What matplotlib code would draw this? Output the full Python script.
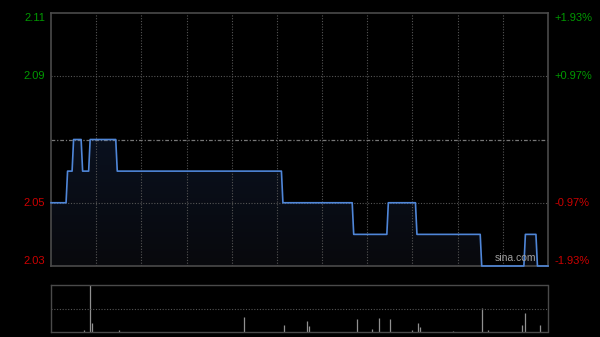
import numpy as np
import matplotlib.pyplot as plt
from matplotlib.colors import LinearSegmentedColormap

plt.rcParams['font.family'] = ['Liberation Sans', 'DejaVu Sans']

# intraday price, minutes after open (HK session, 330 min)
minutes = [0, 10, 11, 14, 15, 20, 21, 25, 26, 43, 44, 153, 154, 200, 201, 223,
           224, 242, 243, 285, 286, 314, 315, 322, 323, 330]
prices = [2.05, 2.05, 2.06, 2.06, 2.07, 2.07, 2.06, 2.06, 2.07, 2.07, 2.06, 2.06,
          2.05, 2.05, 2.04, 2.04, 2.05, 2.05, 2.04, 2.04, 2.03, 2.03, 2.04, 2.04,
          2.03, 2.03]

# volume spikes (relative to max)
vol_minutes = [22, 26, 27, 45, 128, 155, 170, 171, 203, 213, 218, 225, 240, 244,
               245, 267, 286, 290, 313, 315, 325]
vol_values = [0.05, 1.0, 0.19, 0.05, 0.31, 0.14, 0.23, 0.13, 0.27, 0.06, 0.29,
              0.27, 0.05, 0.19, 0.11, 0.03, 0.51, 0.05, 0.14, 0.40, 0.14]

prev_close = 2.07
left_ticks = [2.11, 2.09, 2.05, 2.03]
right_labels = ['+1.93%', '+0.97%', '-0.97%', '-1.93%']

green = '#009900'
red = '#cc0000'
grid_c = '#555555'
spine_c = '#4a4a4a'

fig = plt.figure(figsize=(6, 3.37), dpi=100, facecolor='black')
ax = fig.add_axes([0.085, 0.2107, 0.8283, 0.7507], facecolor='black')
axv = fig.add_axes([0.085, 0.0148, 0.8283, 0.1395], facecolor='black')

ymin, ymax = 2.03, 2.11
ax.set_xlim(0, 330)
ax.set_ylim(ymin, ymax)

# gradient fill below price line
grad = np.linspace(0, 1, 256).reshape(-1, 1)
cmap = LinearSegmentedColormap.from_list('g', ['#08090d', '#0c1830'])
img = ax.imshow(grad, extent=[0, 330, ymin, ymax], origin='lower', aspect='auto',
                cmap=cmap, zorder=1)
poly = ax.fill_between(minutes, prices, ymin, color='none')
img.set_clip_path(poly.get_paths()[0], transform=ax.transData)

ax.plot(minutes, prices, color='#4f86d8', linewidth=1.2, zorder=5, clip_on=False)

# grid
for m in range(30, 330, 30):
    ax.axvline(m, color=grid_c, linestyle=(0, (1, 1.5)), linewidth=0.8, zorder=2)
for y in [2.09, 2.05]:
    ax.axhline(y, color=grid_c, linestyle=(0, (1, 1.5)), linewidth=0.8, zorder=2)
ax.axhline(prev_close, color='#777777', linestyle=(0, (3, 1.5, 1, 1.5)),
           linewidth=0.9, zorder=2)

ax.set_xticks([])
ax.set_yticks([])
for s in ax.spines.values():
    s.set_color(spine_c)
    s.set_linewidth(1.2)
    s.set_zorder(4)

# axis labels
for y, rl in zip(left_ticks, right_labels):
    c = green if y > prev_close else red
    off = 0
    if y == ymax:
        off = -0.0017
    elif y == ymin:
        off = 0.0017
    ax.text(-4, y + off, f'{y:.2f}', color=c, fontsize=8, ha='right', va='center')
    ax.text(334, y + off, rl, color=c, fontsize=8, ha='left', va='center')

ax.text(322, 2.0325, 'sina.com', color='#a0a0a0', fontsize=7.5, ha='right',
        va='center', zorder=6)

# volume panel
axv.set_xlim(0, 330)
axv.set_ylim(0, 1.0)
axv.vlines(vol_minutes, 0, vol_values, color='#909090', linewidth=0.9)
axv.axhline(0.5, color=grid_c, linestyle=(0, (1, 1.5)), linewidth=0.8)
axv.set_xticks([])
axv.set_yticks([])
for s in axv.spines.values():
    s.set_color(spine_c)
    s.set_linewidth(1.0)
axv.spines['top'].set_linestyle((0, (1, 1)))
axv.spines['bottom'].set_linestyle((0, (1, 1)))

fig.savefig('out.png', dpi=100, facecolor='black')
